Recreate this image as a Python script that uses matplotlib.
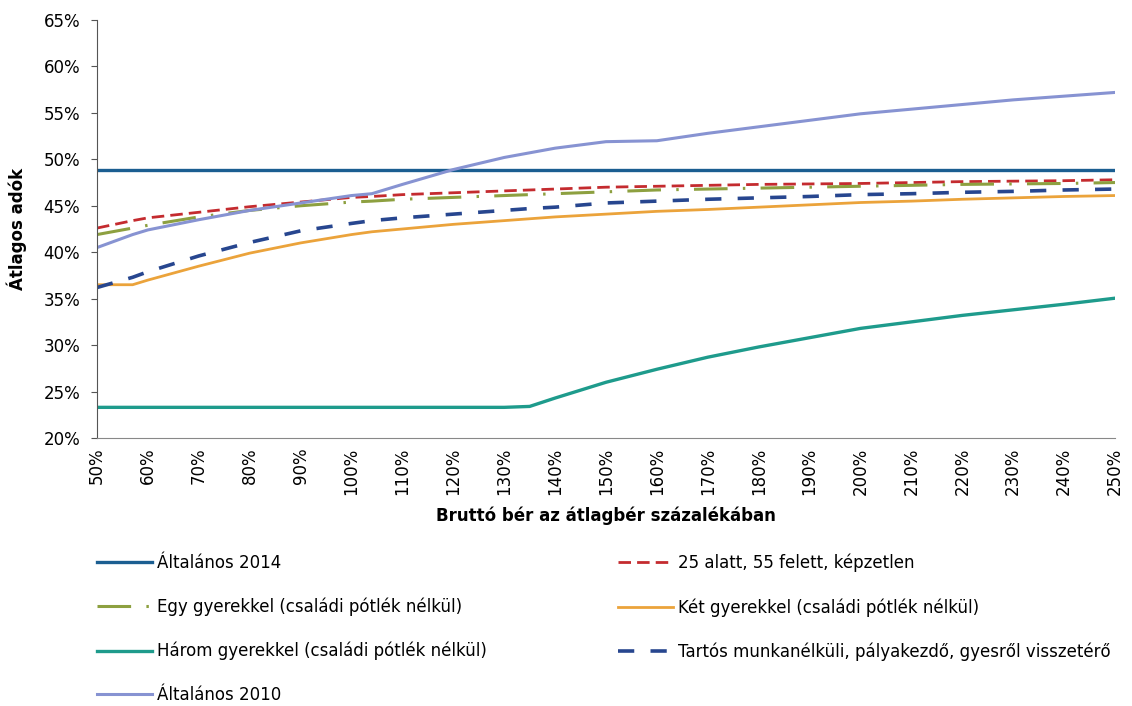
import numpy as np
import matplotlib
matplotlib.use("Agg")
import matplotlib.pyplot as plt
from matplotlib.ticker import FuncFormatter

# ==========================
# Adatok (leolvasva az ábráról)
# ==========================
x = [50, 57, 60, 70, 80, 90, 100, 104, 110, 120, 130, 135, 140, 150,
     160, 170, 180, 190, 200, 210, 220, 230, 240, 250]

altalanos_2014 = [48.9] * len(x)
alatt_25 = [42.6, 43.4, 43.7, 44.3, 44.9, 45.4, 45.9, 46.0, 46.2, 46.4, 46.6, 46.7,
            46.8, 47.0, 47.1, 47.2, 47.3, 47.35, 47.4, 47.5, 47.6, 47.65, 47.7, 47.8]
egy_gyerek = [41.9, 42.6, 42.9, 43.8, 44.5, 45.0, 45.4, 45.5, 45.7, 45.9, 46.1, 46.2,
              46.3, 46.5, 46.7, 46.8, 46.9, 47.0, 47.1, 47.2, 47.3, 47.35, 47.4, 47.5]
ket_gyerek = [36.5, 36.5, 37.0, 38.5, 39.9, 41.0, 41.9, 42.2, 42.5, 43.0, 43.4, 43.6,
              43.8, 44.1, 44.4, 44.6, 44.85, 45.1, 45.35, 45.5, 45.7, 45.85, 46.0, 46.1]
harom_gyerek = [23.3, 23.3, 23.3, 23.3, 23.3, 23.3, 23.3, 23.3, 23.3, 23.3, 23.3, 23.4,
                24.3, 26.0, 27.4, 28.7, 29.8, 30.8, 31.8, 32.5, 33.2, 33.8, 34.4, 35.05]
tartos = [36.2, 37.3, 37.9, 39.6, 41.05, 42.3, 43.1, 43.4, 43.7, 44.1, 44.5, 44.7,
          44.85, 45.3, 45.5, 45.7, 45.85, 46.0, 46.2, 46.3, 46.45, 46.55, 46.7, 46.8]
altalanos_2010 = [40.5, 41.9, 42.4, 43.5, 44.5, 45.3, 46.1, 46.3, 47.3, 48.9, 50.2, 50.7,
                  51.2, 51.9, 52.0, 52.8, 53.5, 54.2, 54.9, 55.4, 55.9, 56.4, 56.8, 57.2]

x_ticks = list(range(50, 251, 10))
y_ticks = list(range(20, 66, 5))

# ==========================
# Ábra
# ==========================
fig = plt.figure(figsize=(11.32, 7.06), dpi=100)
ax = fig.add_axes([0.0857, 0.3796, 0.8993, 0.5921])

l2014, = ax.plot(x, altalanos_2014, color="#1B5E91", lw=2.4, label="Általános 2014")
l25, = ax.plot(x, alatt_25, color="#C42B2F", lw=2.0, dashes=(4.5, 2.2),
               label="25 alatt, 55 felett, képzetlen")
legy, = ax.plot(x, egy_gyerek, color="#8DA040", lw=2.2, dashes=(11, 5, 0.8, 5),
                label="Egy gyerekkel (családi pótlék nélkül)")
lket, = ax.plot(x, ket_gyerek, color="#EBA33B", lw=2.0,
                label="Két gyerekkel (családi pótlék nélkül)")
lharom, = ax.plot(x, harom_gyerek, color="#1E9B8C", lw=2.4,
                  label="Három gyerekkel (családi pótlék nélkül)")
ltartos, = ax.plot(x, tartos, color="#27468F", lw=2.6, dashes=(4.5, 4.5),
                   label="Tartós munkanélküli, pályakezdő, gyesről visszetérő")
l2010, = ax.plot(x, altalanos_2010, color="#8793D2", lw=2.2, label="Általános 2010")

ax.set_xlim(50, 250)
ax.set_ylim(20, 65)
ax.set_xticks(x_ticks)
ax.set_yticks(y_ticks)
ax.xaxis.set_major_formatter(FuncFormatter(lambda v, p: f"{v:.0f}%"))
ax.yaxis.set_major_formatter(FuncFormatter(lambda v, p: f"{v:.0f}%"))
ax.tick_params(axis="x", labelrotation=90, labelsize=12, length=0, pad=7)
ax.tick_params(axis="y", labelsize=12, length=4, pad=8, color="#555555")

for s in ["top", "right"]:
    ax.spines[s].set_visible(False)
ax.spines["left"].set_color("#555555")
ax.spines["bottom"].set_color("#888888")

ax.set_xlabel("Bruttó bér az átlagbér százalékában", fontsize=12,
              fontweight="bold", labelpad=8)
ax.set_ylabel("Átlagos adók", fontsize=12, fontweight="bold", labelpad=12)

# Jelmagyarázat két oszlopban
kw = dict(frameon=False, fontsize=12, handlelength=3.3, handletextpad=0.3,
          labelspacing=1.55, loc="upper left", borderaxespad=0)
fig.legend(handles=[l2014, legy, lharom, l2010], bbox_to_anchor=(0.080, 0.225), **kw)
fig.legend(handles=[l25, lket, ltartos], bbox_to_anchor=(0.540, 0.225), **kw)

plt.savefig("out.png", dpi=100)
plt.close()
